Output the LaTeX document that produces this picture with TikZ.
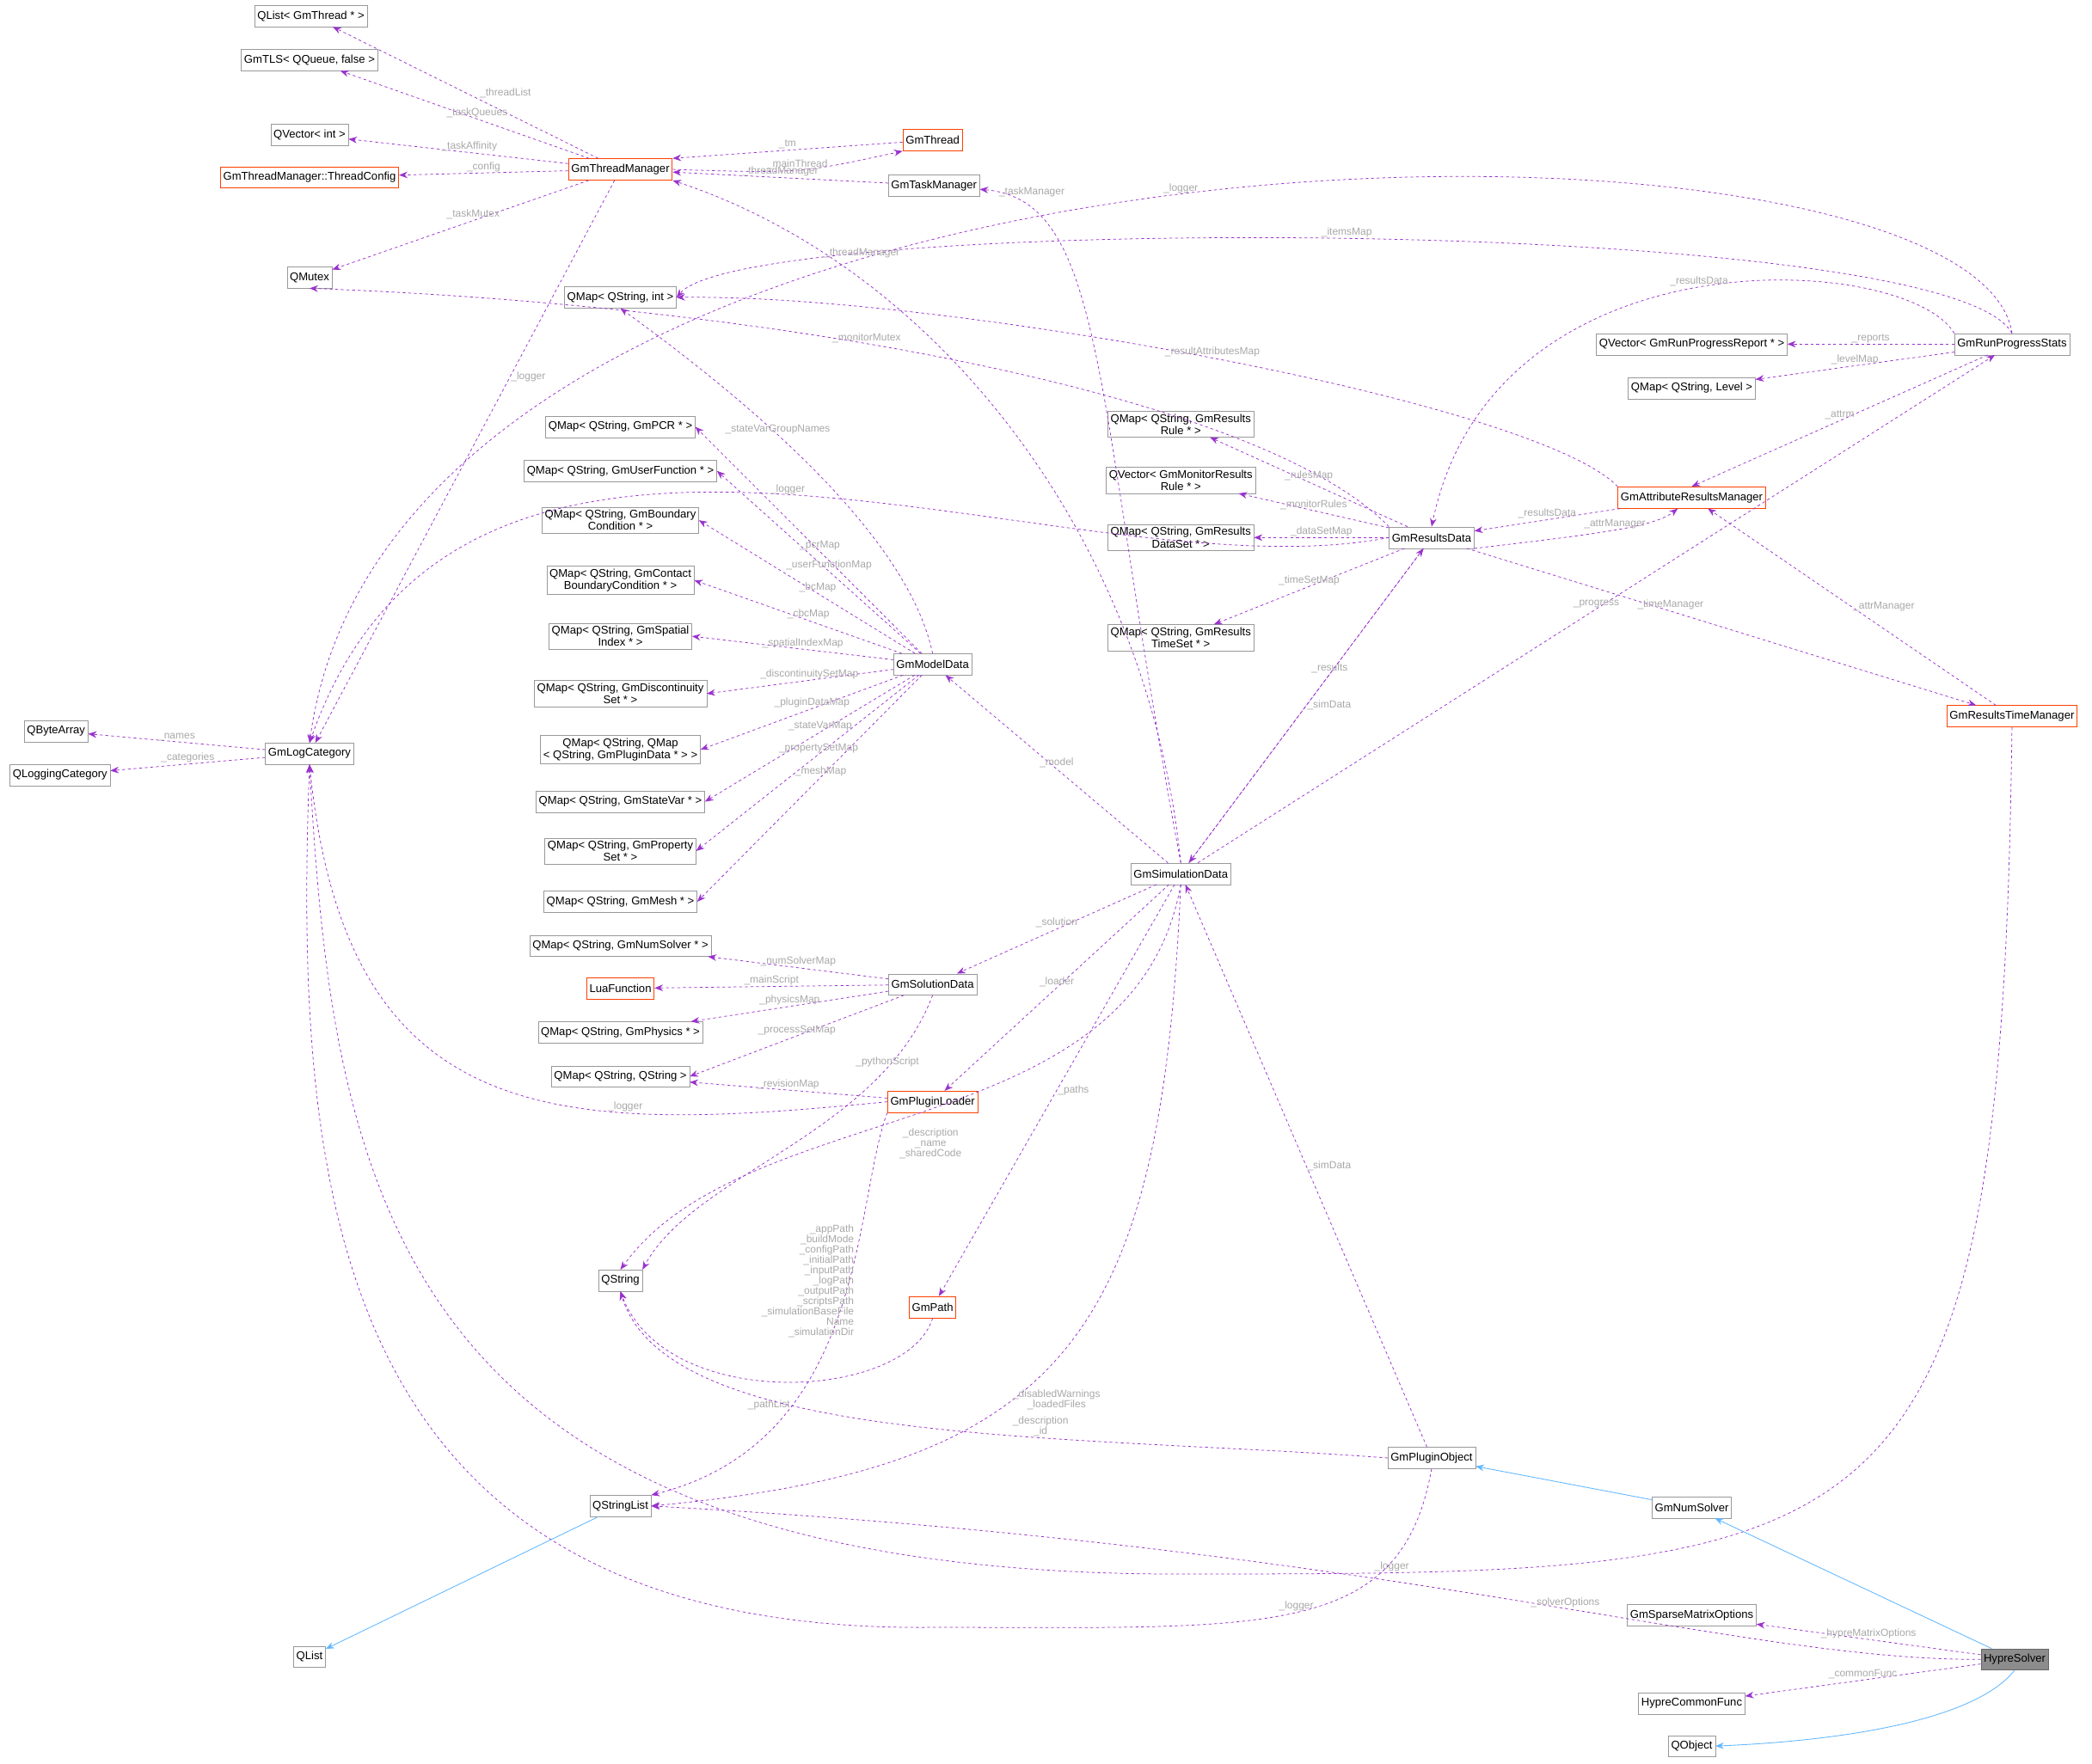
\documentclass[tikz,border=0pt]{standalone}
\usepackage{fontspec}
\setmainfont{Liberation Sans}
\usetikzlibrary{arrows.meta}
\definecolor{refc}{HTML}{9A32CD}
\definecolor{inhc}{HTML}{63B8FF}
\definecolor{lblc}{HTML}{A8A8A8}
\tikzset{
  box/.style={draw=black!40, fill=white, align=center, inner sep=3pt, minimum height=0.8cm, font=\fontsize{12}{13}\selectfont},
  redbox/.style={box, draw={rgb,255:red,255;green,64;blue,0}, line width=0.8pt},
  curbox/.style={box, fill=black!45, draw=black!60},
  ref/.style={draw=refc, dashed, line width=0.7pt, -{Stealth[length=9pt,width=7pt]}},
  inh/.style={draw=inhc, line width=0.8pt, -{Stealth[length=9pt,width=7pt]}},
  lbl/.style={text=lblc, font=\fontsize{11}{11}\selectfont, align=center, inner sep=1pt}
}
\begin{document}
\begin{tikzpicture}[x=0.05cm,y=-0.05cm]
	\useasboundingbox (0,0) rectangle (1568,1322);
	% classes on the left
	\node[box] (qlthr) at (233,12) {QList< GmThread * >};
	\node[box] (tls) at (232,45) {GmTLS< QQueue, false >};
	\node[box] (qvint) at (232,101) {QVector< int >};
	\node[redbox] (tcfg) at (232,133) {GmThreadManager::ThreadConfig};
	\node[box] (mutex) at (232,208) {QMutex};
	\node[box] (bytes) at (42,548) {QByteArray};
	\node[box] (lcat) at (45,581) {QLoggingCategory};
	\node[box] (logc) at (232,565) {GmLogCategory};
	\node[box] (qlist) at (232,1242) {QList};
	% thread management
	\node[redbox] (tm) at (465,127) {GmThreadManager};
	\node[redbox] (thr) at (699,105) {GmThread};
	\node[box] (task) at (700,139) {GmTaskManager};
	\node[box] (mint) at (465,223) {QMap< QString, int >};
	% model data maps
	\node[box] (mpcr) at (465,320) {QMap< QString, GmPCR * >};
	\node[box] (muf) at (465,353) {QMap< QString, GmUserFunction * >};
	\node[box] (mbc) at (465,390) {QMap< QString, GmBoundary\\Condition * >};
	\node[box] (mcbc) at (465,435) {QMap< QString, GmContact\\BoundaryCondition * >};
	\node[box] (msi) at (465,477) {QMap< QString, GmSpatial\\Index * >};
	\node[box] (mdisc) at (465,520) {QMap< QString, GmDiscontinuity\\Set * >};
	\node[box] (mpd) at (465,562) {QMap< QString, QMap\\< QString, GmPluginData * > >};
	\node[box] (msv) at (465,601) {QMap< QString, GmStateVar * >};
	\node[box] (mprop) at (465,638) {QMap< QString, GmProperty\\Set * >};
	\node[box] (mmesh) at (465,676) {QMap< QString, GmMesh * >};
	\node[box] (mns) at (465,709) {QMap< QString, GmNumSolver * >};
	\node[redbox] (lua) at (465,741) {LuaFunction};
	\node[box] (mphys) at (465,774) {QMap< QString, GmPhysics * >};
	\node[box] (mss) at (465,807) {QMap< QString, QString >};
	\node[box] (qstr) at (465,960) {QString};
	\node[box] (qsl) at (465,1129) {QStringList};
	% middle column
	\node[box] (model) at (699,498) {GmModelData};
	\node[box] (sol) at (699,738) {GmSolutionData};
	\node[redbox] (loader) at (699,826) {GmPluginLoader};
	\node[redbox] (path) at (699,980) {GmPath};
	\node[box] (sim) at (885,655) {GmSimulationData};
	% results
	\node[box] (mrule) at (885,318) {QMap< QString, GmResults\\Rule * >};
	\node[box] (vmon) at (885,360) {QVector< GmMonitorResults\\Rule * >};
	\node[box] (mds) at (885,403) {QMap< QString, GmResults\\DataSet * >};
	\node[box] (mts) at (885,478) {QMap< QString, GmResults\\TimeSet * >};
	\node[box] (res) at (1073,403) {GmResultsData};
	\node[box] (vrep) at (1268,258) {QVector< GmRunProgressReport * >};
	\node[box] (mlev) at (1268,291) {QMap< QString, Level >};
	\node[box] (prog) at (1508,258) {GmRunProgressStats};
	\node[redbox] (attr) at (1268,373) {GmAttributeResultsManager};
	\node[redbox] (rtm) at (1508,537) {GmResultsTimeManager};
	% plugin / solver
	\node[box] (pobj) at (1073,1093) {GmPluginObject};
	\node[box] (nsol) at (1268,1130) {GmNumSolver};
	\node[box] (smo) at (1268,1211) {GmSparseMatrixOptions};
	\node[curbox] (hyp) at (1510,1244) {HypreSolver};
	\node[box] (hcf) at (1268,1277) {HypreCommonFunc};
	\node[box] (qobj) at (1268,1309) {QObject};

	% GmThreadManager members
	\draw[ref] (tm) -- node[lbl,pos=0.45,above right]{\_threadList} (qlthr);
	\draw[ref] (tm) -- node[lbl,pos=0.45,above]{\_taskQueues} (tls);
	\draw[ref] (tm) -- node[lbl,pos=0.45,above]{\_taskAffinity} (qvint);
	\draw[ref] (tm) -- node[lbl,above]{\_config} (tcfg);
	\draw[ref] (tm) -- node[lbl,pos=0.45,above]{\_taskMutex} (mutex);
	\draw[ref] (tm) -- node[lbl,pos=0.35,right]{\_logger} (logc);
	\draw[ref] (tm.east) .. controls (600,130) .. node[lbl,above]{\_mainThread} (thr.south west);
	\draw[ref] (thr) -- node[lbl,above]{\_tm} (tm.north east);
	\draw[ref] (task) -- node[lbl,above]{\_threadManager} (tm);
	% GmRunProgressStats members
	\draw[ref] (prog.north) .. controls (1480,60) and (300,60) .. node[lbl,above,pos=0.5]{\_logger} (logc.north);
	\draw[ref] (prog.north) .. controls (1460,160) and (560,160) .. node[lbl,above]{\_itemsMap} (mint.east);
	\draw[ref] (prog.north west) .. controls (1430,190) and (1120,170) .. node[lbl,above]{\_resultsData} (res.north);
	\draw[ref] (prog) -- node[lbl,above]{\_reports} (vrep);
	\draw[ref] (prog) -- node[lbl,above]{\_levelMap} (mlev);
	\draw[ref] (prog) -- node[lbl,above]{\_attrm} (attr.north);
	% GmAttributeResultsManager
	\draw[ref] (attr.north west) .. controls (1150,300) and (700,220) .. node[lbl,above]{\_resultAttributesMap} (mint.east);
	\draw[ref] (attr) -- node[lbl,above]{\_resultsData} (res);
	\draw[ref] (res.south east) .. controls (1200,400) and (1240,395) .. node[lbl,above]{\_attrManager} (attr);
	% GmResultsData members
	\draw[ref] (res.north west) .. controls (950,300) and (600,230) .. node[lbl,above,pos=0.6]{\_monitorMutex} (mutex.south);
	\draw[ref] (res.west) .. controls (800,450) and (350,220) .. node[lbl,above,pos=0.5]{\_logger} (logc.north);
	\draw[ref] (res) -- node[lbl,above]{\_rulesMap} (mrule);
	\draw[ref] (res) -- node[lbl,above]{\_monitorRules} (vmon);
	\draw[ref] (res) -- node[lbl,above]{\_dataSetMap} (mds);
	\draw[ref] (res) -- node[lbl,above]{\_timeSetMap} (mts);
	\draw[ref] (res) -- node[lbl,above,pos=0.4]{\_timeManager} (rtm);
	\draw[ref] (res) -- node[lbl,right]{\_simData} (sim);
	\draw[ref] (sim) -- node[lbl,above,pos=0.6]{\_results} (res);
	\draw[ref] (rtm) -- node[lbl,right]{\_attrManager} (attr);
	\draw[ref] (rtm.south) .. controls (1500,1170) and (1420,1180) .. node[lbl,above,pos=0.9]{\_logger} (900,1180) .. controls (300,1185) and (250,900) .. (logc.south);
	% GmSimulationData members
	\draw[ref] (sim) -- node[lbl,above]{\_progress} (prog);
	\draw[ref] (sim.north) .. controls (820,300) and (830,150) .. node[lbl,right,pos=0.95]{\_taskManager} (task);
	\draw[ref] (sim.north) .. controls (860,400) and (700,200) .. node[lbl,right,pos=0.8]{\_threadManager} (tm.south east);
	\draw[ref] (sim) -- node[lbl,above]{\_model} (model);
	\draw[ref] (sim) -- node[lbl,above]{\_solution} (sol);
	\draw[ref] (sim) -- node[lbl,above]{\_loader} (loader);
	\draw[ref] (sim.south) .. controls (850,860) and (560,820) .. node[lbl,pos=0.5,yshift=-36pt]{\_description\\\_name\\\_sharedCode} (qstr.north);
	\draw[ref] (sim) -- node[lbl,right]{\_paths} (path);
	\draw[ref] (sim.south) .. controls (870,1000) and (800,1100) .. node[lbl,right,pos=0.6]{\_disabledWarnings\\\_loadedFiles} (qsl.east);
	% GmModelData members
	\draw[ref] (model.north) .. controls (680,400) and (560,300) .. node[lbl,above,pos=0.6]{\_stateVarGroupNames} (mint.south);
	\foreach \m/\l in {mpcr/\_pcrMap, muf/\_userFunctionMap, mbc/\_bcMap, mcbc/\_cbcMap, msi/\_spatialIndexMap, mdisc/\_discontinuitySetMap, mpd/\_pluginDataMap, msv/\_stateVarMap, mprop/\_propertySetMap, mmesh/\_meshMap}
		\draw[ref] (model) -- node[lbl,pos=0.45,above]{\l} (\m.east);
	% GmSolutionData members
	\draw[ref] (sol) -- node[lbl,above]{\_numSolverMap} (mns);
	\draw[ref] (sol) -- node[lbl,above]{\_mainScript} (lua);
	\draw[ref] (sol) -- node[lbl,above]{\_physicsMap} (mphys);
	\draw[ref] (sol) -- node[lbl,above]{\_processSetMap} (mss.east);
	\draw[ref] (sol.south) .. controls (660,850) and (520,880) .. node[lbl,above,pos=0.2]{\_pythonScript} (qstr.north east);
	% GmPluginLoader members
	\draw[ref] (loader) -- node[lbl,above]{\_revisionMap} (mss);
	\draw[ref] (loader.west) .. controls (420,850) and (260,850) .. node[lbl,above,pos=0.3]{\_logger} (logc.south);
	\draw[ref] (loader.south west) .. controls (640,900) and (650,1080) .. node[lbl,left,pos=0.7]{\_pathList} (qsl.north east);
	\draw[ref] (path.south) .. controls (680,1050) and (500,1060) .. node[lbl,align=right,anchor=east,pos=0,xshift=-2.9cm,yshift=1.4cm]{\_appPath\\\_buildMode\\\_configPath\\\_initialPath\\\_inputPath\\\_logPath\\\_outputPath\\\_scriptsPath\\\_simulationBaseFile\\Name\\\_simulationDir} (qstr.south);
	% GmPluginObject members
	\draw[ref] (pobj) -- node[lbl,right]{\_simData} (sim);
	\draw[ref] (pobj.west) .. controls (800,1075) and (500,1085) .. node[lbl,above,pos=0.35]{\_description\\\_id} (qstr.south);
	\draw[ref] (pobj.south) .. controls (1050,1230) and (950,1220) .. node[lbl,above]{\_logger} (700,1220) .. controls (250,1225) and (220,900) .. (logc.south);
	% GmLogCategory members
	\draw[ref] (logc) -- node[lbl,above]{\_names} (bytes);
	\draw[ref] (logc) -- node[lbl,above]{\_categories} (lcat);
	% HypreSolver members
	\draw[ref] (hyp.west) .. controls (1300,1245) and (1050,1160) .. node[lbl,above,pos=0.45]{\_solverOptions} (qsl.east);
	\draw[ref] (hyp) -- node[lbl,above]{\_hypreMatrixOptions} (smo);
	\draw[ref] (hyp) -- node[lbl,above]{\_commonFunc} (hcf);
	% inheritance
	\draw[inh] (hyp) -- (nsol);
	\draw[inh] (nsol) -- (pobj);
	\draw[inh] (hyp.south) .. controls (1480,1290) and (1380,1305) .. (qobj.east);
	\draw[inh] (qsl) -- (qlist);
\end{tikzpicture}
\end{document}
